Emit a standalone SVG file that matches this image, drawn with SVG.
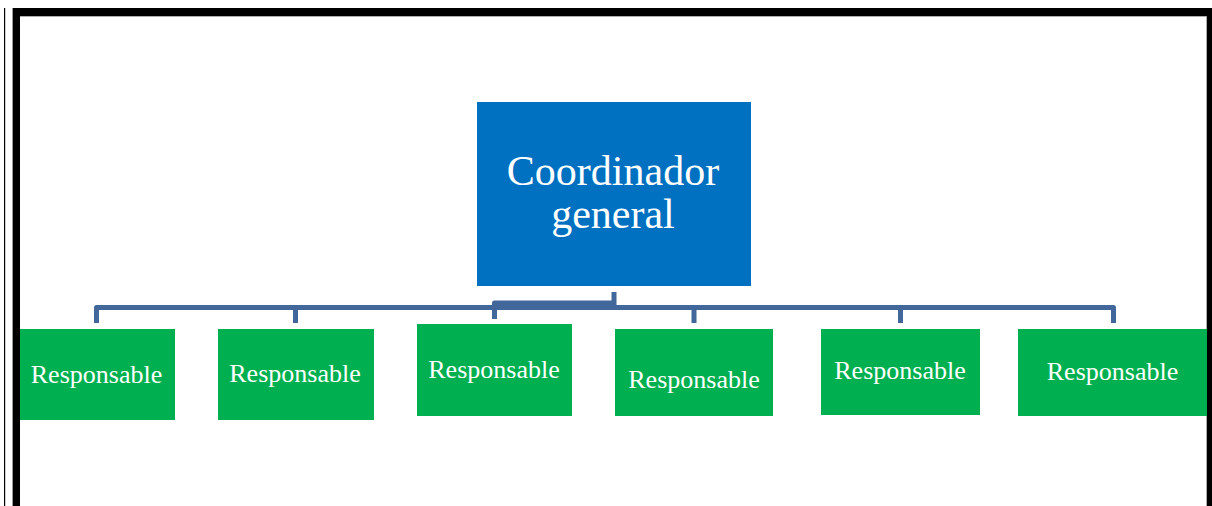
<svg xmlns="http://www.w3.org/2000/svg" width="1212" height="506" viewBox="0 0 1212 506">
<style>
.resp{fill:#00B050;}
.lbl{font-family:"Liberation Serif","Times New Roman",serif;fill:#FFFFFF;text-anchor:middle;}
.small{font-size:26px;}
.big{font-size:42px;}
.conn{fill:none;stroke:#41679B;stroke-width:5;stroke-linejoin:round;}
</style>
<rect x="0" y="0" width="1212" height="506" fill="#FFFFFF"/>
<g id="frame">
<rect x="4" y="8" width="1.2" height="498" fill="#000000"/>
<rect x="12" y="8" width="1200" height="8" fill="#000000"/>
<rect x="12" y="8" width="8" height="498" fill="#000000"/>
<rect x="1207" y="8" width="5" height="498" fill="#000000"/>
<rect x="12" y="8" width="1" height="498" fill="#9a9a9a"/>
<rect x="20" y="16" width="1187" height="0.8" fill="#9a9a9a"/>
<rect x="1206.2" y="16" width="0.8" height="490" fill="#9a9a9a"/>
</g>
<g id="connectors">
<path class="conn" d="M96.5,323 V307.5 H1113.5 V323"/>
<path class="conn" d="M295.5,307.5 V323"/>
<path class="conn" d="M694,307.5 V323"/>
<path class="conn" d="M900.5,307.5 V323"/>
<path class="conn" d="M614,292 V307.5"/>
<path class="conn" d="M494.5,319 V303 H614"/>
</g>
<g id="coordinador">
<rect x="477" y="102" width="274" height="184" fill="#0070C0"/>
<text class="lbl big" x="613" y="185">Coordinador</text>
<text class="lbl big" x="613" y="228">general</text>
</g>
<g id="resp1">
<rect class="resp" x="20" y="329" width="155" height="91"/>
<text class="lbl small" x="96.5" y="383">Responsable</text>
</g>
<g id="resp2">
<rect class="resp" x="218" y="329" width="156" height="91"/>
<text class="lbl small" x="295" y="382">Responsable</text>
</g>
<g id="resp3">
<rect class="resp" x="417" y="324" width="155" height="92"/>
<text class="lbl small" x="494" y="378">Responsable</text>
</g>
<g id="resp4">
<rect class="resp" x="615" y="329" width="158" height="87"/>
<text class="lbl small" x="694" y="388">Responsable</text>
</g>
<g id="resp5">
<rect class="resp" x="821" y="329" width="159" height="86"/>
<text class="lbl small" x="900" y="379">Responsable</text>
</g>
<g id="resp6">
<rect class="resp" x="1018" y="329" width="189" height="87"/>
<text class="lbl small" x="1112.5" y="380">Responsable</text>
</g>
</svg>
